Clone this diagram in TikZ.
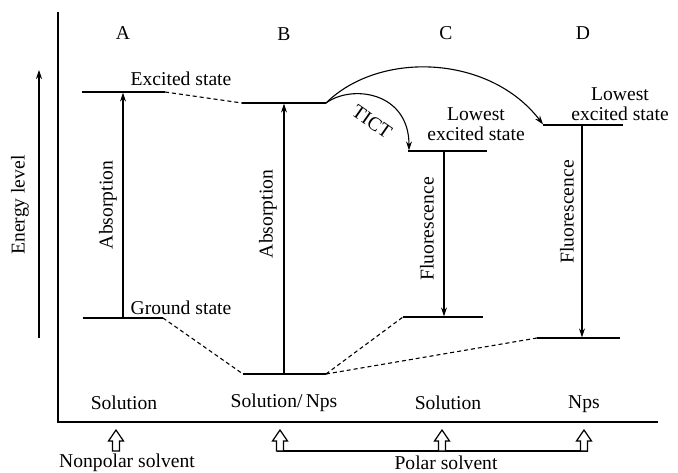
\documentclass[tikz,border=0pt]{standalone}
\usepackage{fontspec}
\setmainfont{Liberation Serif}
\usetikzlibrary{arrows.meta}
\begin{document}
\begin{tikzpicture}[x=1pt,y=-1pt,
  lvl/.style={line width=1.3pt},
  dsh/.style={line width=1.1pt,dash pattern=on 4pt off 3pt},
  arr/.style={line width=1.3pt,-{Stealth[length=9pt,width=6pt]}},
  lab/.style={font=\fontsize{19.6}{20.5}\selectfont,inner sep=0pt},
  hup/.pic={\draw[line width=1.2pt,fill=white] (0,0) -- (7.5,11) -- (3.5,11) -- (3.5,21) -- (-3.5,21) -- (-3.5,11) -- (-7.5,11) -- cycle;}
]
\useasboundingbox (0,0) rectangle (678,473);
% frame
\coordinate (fT) at (58,12);
\coordinate (fO) at (58,422);
\coordinate (fR) at (658,422);
\draw[line width=1.3pt] (fT) -- (fO) -- (fR);
% energy axis
\coordinate (eB) at (39,338);
\coordinate (eT) at (39,70);
\draw[line width=1.1pt,-{Stealth[length=9pt,width=6pt]}] (eB) -- (eT);
\node[lab,rotate=90] (elab) at (20,205) {Energy level};
% column labels
\node[lab] (A) at (123,33) {A};
\node[lab] (B) at (284,34) {B};
\node[lab] (C) at (446,33) {C};
\node[lab] (D) at (583,33) {D};
% levels
\coordinate (aE1) at (82,92);  \coordinate (aE2) at (165,92);
\coordinate (aG1) at (83,318); \coordinate (aG2) at (163,318);
\coordinate (bE1) at (242,103); \coordinate (bE2) at (326,103);
\coordinate (bG1) at (243,374); \coordinate (bG2) at (326,374);
\coordinate (cE1) at (408,151); \coordinate (cE2) at (487,151);
\coordinate (cG1) at (403,317); \coordinate (cG2) at (483,317);
\coordinate (dE1) at (543,125); \coordinate (dE2) at (623,125);
\coordinate (dG1) at (537,338); \coordinate (dG2) at (620,338);
\foreach \p in {aE,aG,bE,bG,cE,cG,dE,dG} \draw[lvl] (\p1) -- (\p2);
% dashed connections
\draw[dsh] (aE2) -- (bE1);
\draw[dsh] (aG2) -- (bG1);
\draw[dsh] (bG2) -- (cG1);
\draw[dsh] (bG2) -- (dG1);
% vertical transitions
\coordinate (aAb) at (123,318); \coordinate (aAt) at (123,92.6);
\coordinate (bAb) at (284,374); \coordinate (bAt) at (284,103.6);
\coordinate (cFt) at (444,151); \coordinate (cFb) at (444,316.4);
\coordinate (dFt) at (582,125); \coordinate (dFb) at (582,337.4);
\draw[arr] (aAb) -- (aAt);
\draw[arr] (bAb) -- (bAt);
\draw[arr] (cFt) -- (cFb);
\draw[arr] (dFt) -- (dFb);
\node[lab,rotate=90] (absA) at (108,205) {Absorption};
\node[lab,rotate=90] (absB) at (268,214) {Absorption};
\node[lab,rotate=90] (flC) at (427,229) {Fluorescence};
\node[lab,rotate=90] (flD) at (567,212) {Fluorescence};
% state labels
\node[lab] (exc) at (181,79) {Excited state};
\node[lab] (gnd) at (181,308) {Ground state};
\node[lab,align=center] (lowC) at (476,124) {Lowest\\excited state};
\node[lab,align=center] (lowD) at (620,104) {Lowest\\excited state};
% TICT curves
\coordinate (cEt) at (409,150.4);
\coordinate (dEt) at (543,124.4);
\draw[line width=1.1pt,-{Stealth[length=9pt,width=6pt]}] (bE2) .. controls (352,84) and (409,92) .. (cEt);
\draw[line width=1.1pt,-{Stealth[length=9pt,width=6pt]}] (bE2) .. controls (380,50) and (490,55) .. (dEt);
\node[lab,rotate=-35] (tict) at (372,122) {TICT};
% bottom labels
\node[lab] (sA) at (124,403) {Solution};
\node[lab] (sB) at (284,403) {Solution/\,Nps};
\node[lab] (sC) at (448,403) {Solution};
\node[lab] (sD) at (584,404) {Nps};
% solvent arrows
\coordinate (pL) at (276.5,451);
\coordinate (pR) at (587.5,451);
\draw[line width=1.3pt] (pL) -- (pR);
\pic at (116,430) {hup};
\pic at (280,430) {hup};
\pic at (442,430) {hup};
\pic at (584,430) {hup};
\node[lab] (np) at (127,463) {Nonpolar solvent};
\node[lab] (ps) at (446,463) {Polar solvent};
\end{tikzpicture}
\end{document}
